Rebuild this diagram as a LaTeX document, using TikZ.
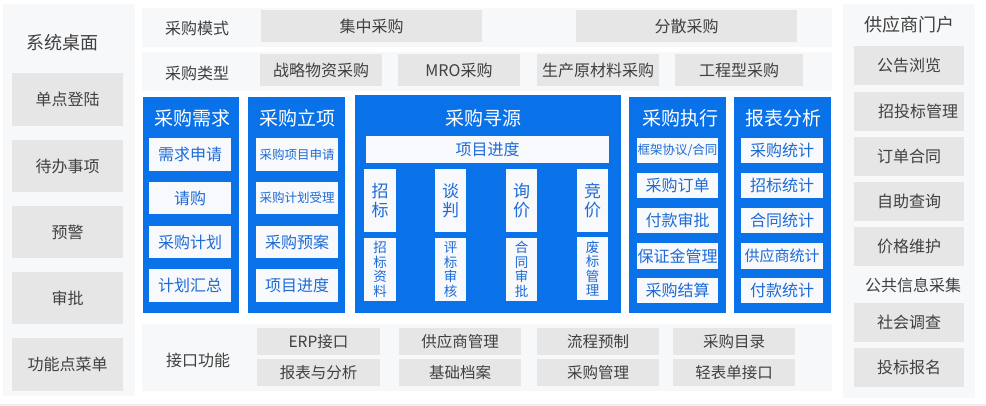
\documentclass[tikz,border=0pt]{standalone}
\usepackage{fontspec}
\setmainfont{Noto Sans CJK SC}
\definecolor{panel}{HTML}{F7F8FA}
\definecolor{gboxc}{HTML}{E6E6E6}
\definecolor{gtext}{HTML}{404040}
\definecolor{bblue}{HTML}{0A72E8}
\definecolor{wboxc}{HTML}{F7F9FC}
\definecolor{btext}{HTML}{1E6BD6}
\definecolor{edgeline}{HTML}{EEEEEE}
\newcommand\fsz[2]{\fontsize{#1}{#2}\selectfont}
\newcommand\rbox[7]{\node[#1, minimum width={(#5-#3)*1pt}, minimum height={(#6-#4)*1pt}] (#2) at ({(#3+#5)/2},{(#4+#6)/2}) {#7};}
\tikzset{
  panelbox/.style={fill=panel, draw=none, inner sep=0pt, outer sep=0pt},
  graybox/.style={fill=gboxc, text=gtext, inner sep=0pt, outer sep=0pt, font=\fsz{16}{18}},
  graysmall/.style={graybox, font=\fsz{15.5}{18}},
  blueblock/.style={fill=bblue, inner sep=0pt, outer sep=0pt},
  whitebox/.style={fill=wboxc, text=btext, inner sep=0pt, outer sep=0pt, font=\fsz{16}{18}},
  whitesmall/.style={whitebox, font=\fsz{12.5}{14}},
  vbig/.style={whitebox, align=center, font=\fsz{17}{18.5}},
  vsmall/.style={whitebox, align=center, font=\fsz{13.5}{14.5}},
  paneltitle/.style={text=gtext, inner sep=0pt, font=\fsz{18}{20}},
  rowlabel/.style={text=gtext, inner sep=0pt, font=\fsz{16}{18}},
  bluetitle/.style={text=white, inner sep=0pt, font=\fsz{19}{21}},
}
\begin{document}
\begin{tikzpicture}[x=1pt,y=-1pt]
\useasboundingbox (0,0) rectangle (986,406);
\fill[white] (0,0) rectangle (986,406);
\fill[edgeline] (0,403.5) rectangle (986,406);

% left panel
\rbox{panelbox}{lp}{3}{4}{135}{396}{}
\node[paneltitle] (lpt) at (63,43) {系统桌面};
\rbox{graybox}{l1}{12}{73}{123}{126}{单点登陆}
\rbox{graybox}{l2}{12}{140}{123}{192}{待办事项}
\rbox{graybox}{l3}{12}{206}{123}{258}{预警}
\rbox{graybox}{l4}{12}{272}{123}{324}{审批}
\rbox{graybox}{l5}{12}{338}{123}{391}{功能点菜单}

% top rows
\rbox{panelbox}{r1}{142}{8}{832}{47}{}
\node[rowlabel] (r1t) at (197,28) {采购模式};
\rbox{graybox}{jz}{261}{10}{482}{42}{集中采购}
\rbox{graybox}{fs}{576}{10}{797}{42}{分散采购}
\rbox{panelbox}{r2}{142}{52}{832}{91}{}
\node[rowlabel] (r2t) at (197,73) {采购类型};
\rbox{graybox}{zl}{260}{54}{382}{86}{战略物资采购}
\rbox{graybox}{mro}{398}{54}{520}{86}{MRO采购}
\rbox{graybox}{scl}{537}{54}{659}{86}{生产原材料采购}
\rbox{graybox}{gcx}{675}{54}{803}{86}{工程型采购}

% block 1
\rbox{blueblock}{b1}{143}{97}{239}{313}{}
\node[bluetitle] (b1t) at (192,118) {采购需求};
\rbox{whitebox}{b1a}{149}{138}{231}{171}{需求申请}
\rbox{whitebox}{b1b}{149}{182}{231}{214}{请购}
\rbox{whitebox}{b1c}{149}{226}{231}{258}{采购计划}
\rbox{whitebox}{b1d}{149}{269}{231}{302}{计划汇总}

% block 2
\rbox{blueblock}{b2}{248}{97}{345}{313}{}
\node[bluetitle] (b2t) at (297,118) {采购立项};
\rbox{whitesmall}{b2a}{256}{138}{338}{171}{采购项目申请}
\rbox{whitesmall}{b2b}{256}{182}{338}{214}{采购计划受理}
\rbox{whitebox}{b2c}{256}{226}{338}{258}{采购预案}
\rbox{whitebox}{b2d}{256}{269}{338}{302}{项目进度}

% block 3
\rbox{blueblock}{b3}{355}{95}{621}{313}{}
\node[bluetitle] (b3t) at (483,118) {采购寻源};
\rbox{whitebox}{b3bar}{366}{136}{609}{163}{项目进度}
\rbox{vbig}{b3a}{364}{169}{396}{232}{招\\标}
\rbox{vbig}{b3b}{435}{169}{466}{232}{谈\\判}
\rbox{vbig}{b3c}{506}{169}{537}{232}{询\\价}
\rbox{vbig}{b3d}{577}{169}{608}{232}{竞\\价}
\rbox{vsmall}{b3e}{364}{238}{396}{301}{招\\标\\资\\料}
\rbox{vsmall}{b3f}{435}{238}{466}{301}{评\\标\\审\\核}
\rbox{vsmall}{b3g}{506}{238}{537}{301}{合\\同\\审\\批}
\rbox{vsmall}{b3h}{577}{237}{608}{300}{废\\标\\管\\理}

% block 4
\rbox{blueblock}{b4}{629}{97}{726}{313}{}
\node[bluetitle] (b4t) at (680,118) {采购执行};
\rbox{whitesmall}{b4a}{637}{138}{718}{163}{框架协议/合同}
\rbox{whitebox}{b4b}{637}{173}{718}{198}{采购订单}
\rbox{whitebox}{b4c}{637}{208}{718}{233}{付款审批}
\rbox{whitebox}{b4d}{637}{243}{718}{269}{保证金管理}
\rbox{whitebox}{b4e}{637}{278}{718}{303}{采购结算}

% block 5
\rbox{blueblock}{b5}{734}{97}{831}{313}{}
\node[bluetitle] (b5t) at (783,118) {报表分析};
\rbox{whitebox}{b5a}{741}{138}{823}{163}{采购统计}
\rbox{whitebox}{b5b}{741}{173}{823}{198}{招标统计}
\rbox{whitebox}{b5c}{741}{208}{823}{233}{合同统计}
\rbox{whitebox}{b5d}{741}{243}{823}{269}{\fsz{15}{17}供应商统计}
\rbox{whitebox}{b5e}{741}{278}{823}{303}{付款统计}

% bottom row
\rbox{panelbox}{bp}{142}{324}{832}{391}{}
\node[rowlabel] (bpt) at (198,360) {接口功能};
\rbox{graysmall}{i1}{257}{328}{380}{355}{ERP接口}
\rbox{graysmall}{i2}{399}{328}{521}{355}{供应商管理}
\rbox{graysmall}{i3}{537}{328}{659}{355}{流程预制}
\rbox{graysmall}{i4}{673}{328}{795}{355}{采购目录}
\rbox{graysmall}{i5}{257}{359}{380}{386}{报表与分析}
\rbox{graysmall}{i6}{399}{359}{521}{386}{基础档案}
\rbox{graysmall}{i7}{537}{359}{659}{386}{采购管理}
\rbox{graysmall}{i8}{673}{359}{795}{386}{轻表单接口}

% right panel
\rbox{panelbox}{rp}{843}{4}{975}{398}{}
\node[paneltitle] (rpt) at (909,25) {供应商门户};
\rbox{graybox}{p1}{854}{46}{964}{85}{公告浏览}
\rbox{graybox}{p2}{854}{92}{964}{131}{\hspace*{18pt}招投标管理}
\rbox{graybox}{p3}{854}{137}{964}{176}{订单合同}
\rbox{graybox}{p4}{854}{182}{964}{221}{自助查询}
\rbox{graybox}{p5}{854}{227}{964}{266}{价格维护}
\node[rowlabel] (p6t) at (913,285) {公共信息采集};
\rbox{graybox}{p7}{854}{303}{964}{342}{社会调查}
\rbox{graybox}{p8}{854}{348}{964}{387}{投标报名}
\end{tikzpicture}
\end{document}
